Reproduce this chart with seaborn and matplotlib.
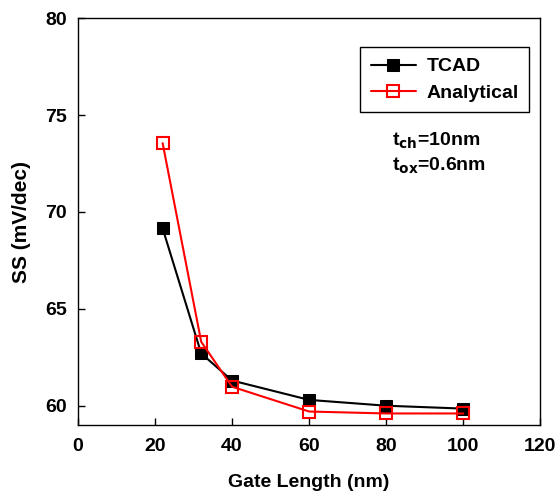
import numpy as np
import pandas as pd
import seaborn as sns
from matplotlib import pyplot as plt

gate_length = [22, 32, 40, 60, 80, 100]
ss_tcad = [69.15, 62.7, 61.3, 60.3, 60.0, 59.85]
ss_analytical = [73.55, 63.3, 60.98, 59.7, 59.6, 59.6]


def main():
    sns.set_style("ticks")
    plt.rcParams["font.family"] = ["Liberation Sans", "DejaVu Sans"]
    plt.rcParams["font.weight"] = "bold"
    plt.rcParams["mathtext.default"] = "bf"
    plt.rcParams["text.color"] = "black"
    plt.rcParams["axes.labelcolor"] = "black"
    plt.rcParams["xtick.color"] = "black"
    plt.rcParams["ytick.color"] = "black"

    fig, ax = plt.subplots(figsize=(5.56, 4.92), dpi=100)
    sns.lineplot(x=gate_length, y=ss_tcad, color="black", marker="s",
                 markersize=9, markerfacecolor="black", markeredgecolor="black",
                 linewidth=1.5, label="TCAD", ax=ax)
    sns.lineplot(x=gate_length, y=ss_analytical, color="red", marker="s",
                 markersize=9, markerfacecolor="none", markeredgecolor="red",
                 markeredgewidth=1.5, linewidth=1.5, label="Analytical", ax=ax)

    ax.set_xlim(0, 120)
    ax.set_ylim(59, 80)
    ax.set_xticks(np.arange(0, 121, 20))
    ax.set_yticks(np.arange(60, 81, 5))
    ax.tick_params(direction="in", labelsize=14, length=5, width=1,
                   top=False, right=False, colors="black")
    ax.tick_params(axis="x", pad=9)
    ax.tick_params(axis="y", pad=8)
    for lab in ax.get_xticklabels() + ax.get_yticklabels():
        lab.set_fontweight("bold")
    ax.set_xlabel("Gate Length (nm)", fontsize=14, fontweight="bold",
                  labelpad=14)
    ax.set_ylabel("SS (mV/dec)", fontsize=15, fontweight="bold", labelpad=10)
    for sp in ax.spines.values():
        sp.set_linewidth(1.0)
        sp.set_color("black")

    leg = ax.legend(loc="upper right", bbox_to_anchor=(0.976, 0.929),
                    borderaxespad=0, frameon=True, fancybox=False,
                    edgecolor="black", prop={"size": 14, "weight": "bold"},
                    handlelength=2.3, handletextpad=0.55, borderpad=0.55,
                    labelspacing=0.45)
    leg.get_frame().set_linewidth(1.0)
    leg.get_frame().set_alpha(1)
    for t in leg.get_texts():
        t.set_color("black")

    ax.text(0.68, 0.686, r"t$_{ch}$=10nm", transform=ax.transAxes,
            fontsize=14, fontweight="bold", color="black")
    ax.text(0.68, 0.624, r"t$_{ox}$=0.6nm", transform=ax.transAxes,
            fontsize=14, fontweight="bold", color="black")

    fig.subplots_adjust(left=0.14, right=0.972, top=0.963, bottom=0.136)
    fig.savefig("out.png", dpi=100)


if __name__ == "__main__":
    main()
